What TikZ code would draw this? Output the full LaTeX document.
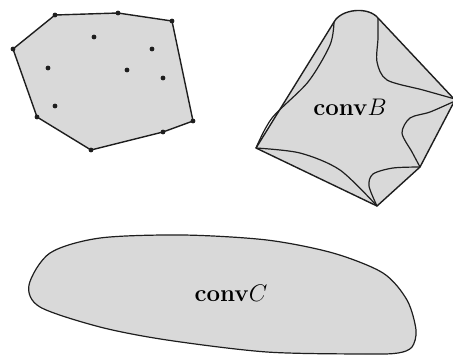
\documentclass[tikz,border=0pt]{standalone}
\usepackage{amsmath,amssymb}
\usepackage{xcolor}
\usepackage{tikz}
\definecolor{blackmain}{HTML}{1E1E1E}
\definecolor{fillgray}{HTML}{D9D9D9}
\tikzset{every node/.append style={font=\rmfamily\large},
  hull/.style={draw=blackmain,line width=.7pt},
  setline/.style={draw=blackmain,line width=.6pt}}

\begin{document}
\begin{tikzpicture}[x=.5pt,y=-.5pt,line join=round]
  \useasboundingbox (0,0) rectangle (453,355);
  % A: finite set of points with its convex hull
  \coordinate (a1) at (55,15);  \coordinate (a2) at (118,13);
  \coordinate (a3) at (172,21); \coordinate (a4) at (193,121);
  \coordinate (a5) at (163,132); \coordinate (a6) at (91,150);
  \coordinate (a7) at (37,117); \coordinate (a8) at (13,49);
  \filldraw[fill=fillgray,hull] (a1)--(a2)--(a3)--(a4)--(a5)--(a6)--(a7)--(a8)--cycle;
  \foreach \p in {a1,a2,a3,a4,a5,a6,a7,a8}
    \fill[blackmain] (\p) circle (1.2pt);
  \foreach \q in {(94,37),(152,49),(48,68),(127,70),(163,78),(55,106)}
    \fill[blackmain] \q circle (1.2pt);
  % B: wavy set, hull touches it at the corners
  \coordinate (TL) at (334,22); \coordinate (TR) at (378,18);
  \coordinate (R) at (455,100);  \coordinate (BR) at (420,167);
  \coordinate (Bo) at (377,206); \coordinate (L) at (256,148);
  \filldraw[fill=fillgray,hull] (TL) .. controls (341,9) and (368,6) .. (TR)
    -- (R) -- (BR) -- (Bo) -- (L) -- cycle;
  \draw[setline] plot[smooth] coordinates {(334,22) (330,45) (308,82) (272,118) (256,148)};
  \draw[setline] plot[smooth] coordinates {(256,148) (300,153) (340,170) (377,206)};
  \draw[setline] plot[smooth] coordinates {(377,206) (369,186) (373,174) (393,168) (420,167)};
  \draw[setline] plot[smooth] coordinates {(420,167) (412,152) (402,133) (410,118) (430,112) (455,101)};
  \draw[setline] plot[smooth] coordinates {(455,99) (423,90) (387,80) (377,62) (378,38) (378,18)};
  \node (convB) at (350,107) {$\mathbf{conv}B$};
  % C: smooth convex blob
  \filldraw[fill=fillgray,setline] plot[smooth cycle] coordinates {(29,285) (50,253) (100,238)
    (183,235) (267,240) (333,253) (383,273) (407,300) (416,330) (412,347) (398,353)
    (367,354) (267,352) (167,340) (100,327) (40,307)};
  \node (convC) at (231,293) {$\mathbf{conv}C$};
\end{tikzpicture}
\end{document}
